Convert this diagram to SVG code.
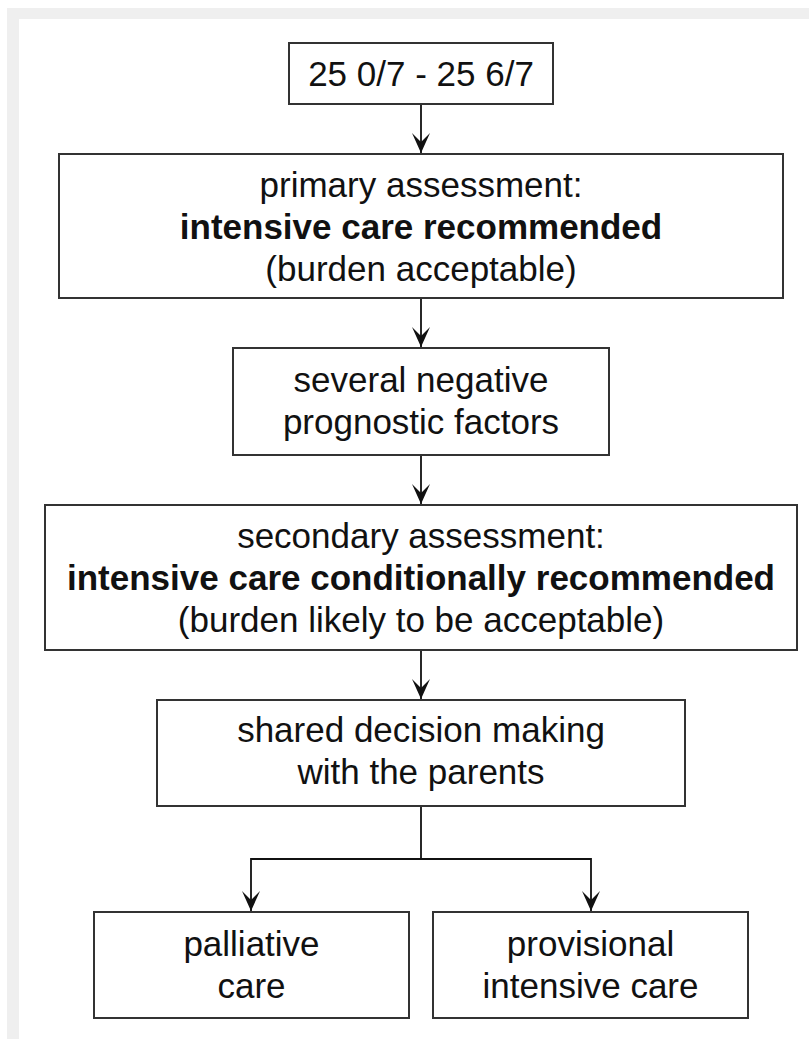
<svg xmlns="http://www.w3.org/2000/svg" width="809" height="1039" viewBox="0 0 809 1039">
<defs>
<style>
.box{fill:#ffffff;stroke:#333333;stroke-width:2}
.t{font-family:"Liberation Sans",Arial,sans-serif;font-size:35px;fill:#111111;text-anchor:middle}
.b{font-weight:bold}
.c{fill:none;stroke:#111111;stroke-width:1.8}
</style>
<marker id="arr" markerUnits="userSpaceOnUse" markerWidth="22" markerHeight="20" viewBox="-21 -10 22 20" refX="0" refY="0" orient="auto">
<path d="M0,0 L-20,-9 L-11,0 L-20,9 Z" fill="#111111"/>
</marker>
</defs>
<rect x="0" y="0" width="809" height="1039" fill="#ffffff"/>
<rect x="7" y="8" width="802" height="1031" fill="#efefef"/>
<rect x="19" y="19" width="790" height="1020" fill="#ffffff"/>
<g id="connectors">
<path class="c" d="M421,104 V153" marker-end="url(#arr)"/>
<path class="c" d="M421,298 V347" marker-end="url(#arr)"/>
<path class="c" d="M421,455 V504" marker-end="url(#arr)"/>
<path class="c" d="M421,650 V699" marker-end="url(#arr)"/>
<path class="c" d="M421,806 V859"/>
<path class="c" d="M421,859 H251 V911" marker-end="url(#arr)"/>
<path class="c" d="M421,859 H591 V911" marker-end="url(#arr)"/>
</g>
<g id="n1">
<rect class="box" x="289" y="43" width="264" height="61"/>
<text class="t" x="421" y="86">25 0/7 - 25 6/7</text>
</g>
<g id="n2">
<rect class="box" x="59" y="154" width="724" height="144"/>
<text class="t" x="421" y="197">primary assessment:</text>
<text class="t b" x="421" y="239">intensive care recommended</text>
<text class="t" x="421" y="281">(burden acceptable)</text>
</g>
<g id="n3">
<rect class="box" x="233" y="348" width="376" height="107"/>
<text class="t" x="421" y="392">several negative</text>
<text class="t" x="421" y="434">prognostic factors</text>
</g>
<g id="n4">
<rect class="box" x="45" y="505" width="752" height="145"/>
<text class="t" x="421" y="548">secondary assessment:</text>
<text class="t b" x="421" y="590">intensive care conditionally recommended</text>
<text class="t" x="421" y="632">(burden likely to be acceptable)</text>
</g>
<g id="n5">
<rect class="box" x="157" y="700" width="528" height="106"/>
<text class="t" x="421" y="742">shared decision making</text>
<text class="t" x="421" y="784">with the parents</text>
</g>
<g id="n6">
<rect class="box" x="94" y="912" width="315" height="106"/>
<text class="t" x="251.5" y="956">palliative</text>
<text class="t" x="251.5" y="998">care</text>
</g>
<g id="n7">
<rect class="box" x="433" y="912" width="315" height="106"/>
<text class="t" x="590.5" y="956">provisional</text>
<text class="t" x="590.5" y="998">intensive care</text>
</g>
</svg>
